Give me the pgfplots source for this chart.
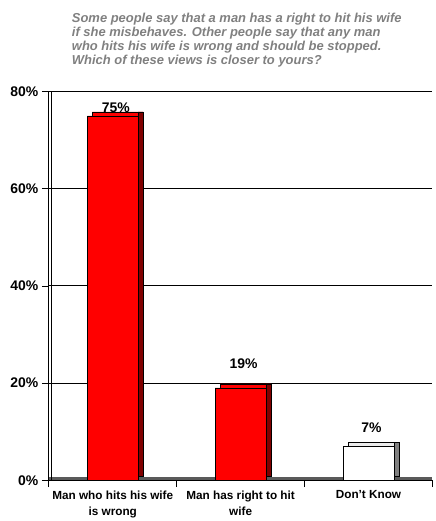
\documentclass[border=0pt]{standalone}
\usepackage{fontspec}
\setmainfont{Liberation Sans}
\usepackage{pgfplots}
\usepackage{pgfplotstable}
\pgfplotsset{compat=1.18}
\definecolor{barred}{RGB}{255,0,0}
\definecolor{barside}{RGB}{128,0,0}
\definecolor{titlegray}{RGB}{128,128,128}
\definecolor{floorgray}{RGB}{90,90,90}
\pgfplotstableread{
x y dy
0 75 0
1 19 16
}\redtable
\pgfplotstableread{
x y dy
2 7 10
}\whitetable
\begin{document}
\begin{tikzpicture}
\begin{axis}[
  scale only axis,
  width=385pt, height=390pt,
  xmin=-0.5, xmax=2.5,
  ymin=0, ymax=80,
  axis x line*=bottom, axis y line*=left,
  axis line style={-, line width=1pt},
  /pgf/number format/assume math mode=true,
  ytick={0,20,40,60,80},
  yticklabel={\bfseries\pgfmathprintnumber{\tick}\%},
  yticklabel style={font=\fontsize{14}{16}\selectfont\bfseries},
  ymajorgrids,
  grid style={black, line width=1pt},
  tick align=outside,
  major tick length=7pt,
  tick style={black, line width=0.8pt},
  xtick={0,1,2},
  xticklabels={{Man who hits his wife\\is wrong},{Man has right to hit\\wife},{Don't Know}},
  xtick style={draw=none},
  xticklabel style={font=\fontsize{11.8}{16}\selectfont\bfseries, align=center},
  extra x ticks={-0.5,0.5,1.5,2.5},
  extra x tick labels={},
  extra x tick style={xtick style={draw=black, line width=0.8pt}, grid=none},
  clip=false,
]
% floor and wall
\fill[floorgray] (rel axis cs:0,0) rectangle ([yshift=3.5pt]rel axis cs:1,0);
\draw[line width=0.8pt] ([xshift=3pt]rel axis cs:0,0) -- ([xshift=3pt]rel axis cs:0,1);
% top faces (shifted back)
\addplot[ybar, bar width=51pt, bar shift=5pt, yshift=4pt, fill=barred, draw=black, line width=0.5pt]
  table[x=x, y=y] {\redtable};
\addplot[ybar, bar width=51pt, bar shift=5pt, yshift=4pt, fill=white!92!black, draw=black, line width=0.5pt]
  table[x=x, y=y] {\whitetable};
% side faces
\addplot[ybar, bar width=5pt, bar shift=28pt, yshift=4pt, fill=barside, draw=black, line width=0.5pt]
  table[x=x, y=y] {\redtable};
\addplot[ybar, bar width=5pt, bar shift=28pt, yshift=4pt, fill=gray, draw=black, line width=0.5pt]
  table[x=x, y=y] {\whitetable};
% front faces
\addplot[ybar, bar width=51pt, bar shift=0pt, fill=barred, draw=black, line width=0.5pt,
  visualization depends on={\thisrow{dy} \as \dy},
  nodes near coords={\bfseries\pgfmathprintnumber{\pgfplotspointmeta}\%},
  nodes near coords style={font=\fontsize{14}{16}\selectfont\bfseries, xshift=3pt, yshift=\dy pt}]
  table[x=x, y=y] {\redtable};
\addplot[ybar, bar width=51pt, bar shift=0pt, fill=white, draw=black, line width=0.5pt,
  visualization depends on={\thisrow{dy} \as \dy},
  nodes near coords={\bfseries\pgfmathprintnumber{\pgfplotspointmeta}\%},
  nodes near coords style={font=\fontsize{14}{16}\selectfont\bfseries, xshift=3pt, yshift=\dy pt}]
  table[x=x, y=y] {\whitetable};
\end{axis}
\node[anchor=north west, inner sep=0pt, align=left, text=titlegray,
  font=\fontsize{13}{14.2}\selectfont\bfseries\itshape] at (23pt,469pt)
  {Some people say that a man has a right to hit his wife\\
   if she misbehaves. Other people say that any man\\
   who hits his wife is wrong and should be stopped.\\
   Which of these views is closer to yours?};
\path[use as bounding box] (-49pt,-39pt) rectangle (385pt,482pt);
\end{tikzpicture}
\end{document}
